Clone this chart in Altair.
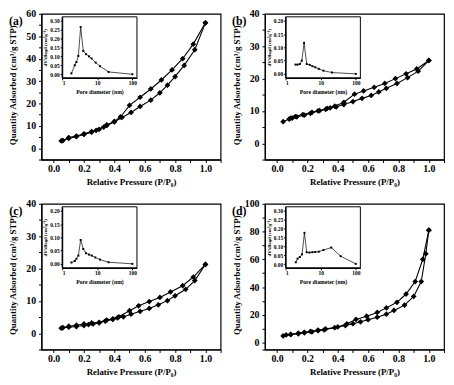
import altair as alt
import pandas as pd

FONT = "Liberation Serif"
W, H = 182, 148

# ---------------- Panel (a) ----------------
a_ads_p = [0.05, 0.06, 0.10, 0.15, 0.20, 0.25, 0.28, 0.33, 0.35, 0.40, 0.45, 0.51, 0.57, 0.64, 0.70, 0.75, 0.80, 0.86, 0.93, 1.00]
a_ads_q = [3.3, 3.5, 4.5, 5.2, 6.2, 7.2, 8.0, 9.5, 10.2, 11.8, 13.8, 16.0, 18.7, 21.5, 24.8, 28.2, 32.0, 37.0, 44.0, 56.0]
a_des_p = [1.00, 0.92, 0.85, 0.78, 0.71, 0.64, 0.57, 0.50, 0.44, 0.40, 0.35, 0.30, 0.25, 0.20, 0.15, 0.10, 0.06]
a_des_q = [56.0, 46.5, 40.0, 35.0, 30.5, 26.5, 22.8, 19.2, 14.0, 12.0, 10.5, 8.5, 7.5, 6.5, 5.5, 4.8, 3.5]
a_pd_d = [1.84, 2.28, 2.55, 2.9, 3.37, 4.0, 4.8, 5.8, 6.9, 9.0, 12.0, 21.0, 100.0]
a_pd_v = [0.005, 0.05, 0.068, 0.102, 0.263, 0.13, 0.112, 0.10, 0.088, 0.065, 0.045, 0.013, 0.0]

# ---------------- Panel (b) ----------------
b_ads_p = [0.04, 0.08, 0.10, 0.13, 0.18, 0.22, 0.27, 0.32, 0.35, 0.39, 0.44, 0.50, 0.56, 0.62, 0.67, 0.72, 0.79, 0.86, 0.93, 1.00]
b_ads_q = [6.7, 7.5, 7.8, 8.2, 8.7, 9.3, 10.0, 10.5, 11.0, 11.3, 12.0, 12.9, 13.9, 14.8, 15.9, 17.0, 18.5, 20.3, 22.3, 25.6]
b_des_p = [1.00, 0.92, 0.85, 0.78, 0.71, 0.64, 0.57, 0.51, 0.44, 0.38, 0.33, 0.28, 0.23, 0.17, 0.12, 0.09]
b_des_q = [25.6, 23.0, 21.5, 20.0, 18.5, 17.3, 16.2, 15.2, 12.7, 11.5, 10.8, 10.1, 9.6, 8.9, 8.3, 7.8]
b_pd_d = [1.92, 2.2, 2.55, 2.9, 3.37, 4.0, 4.9, 5.8, 7.0, 8.8, 12.0, 21.0, 100.0]
b_pd_v = [0.035, 0.035, 0.037, 0.05, 0.117, 0.037, 0.034, 0.029, 0.025, 0.019, 0.012, 0.005, 0.0]

# ---------------- Panel (c) ----------------
c_ads_p = [0.05, 0.06, 0.10, 0.15, 0.20, 0.23, 0.26, 0.30, 0.34, 0.39, 0.42, 0.46, 0.51, 0.57, 0.63, 0.69, 0.75, 0.80, 0.87, 0.93, 1.00]
c_ads_q = [1.6, 1.7, 1.9, 2.1, 2.4, 2.7, 2.9, 3.2, 3.8, 4.3, 4.8, 5.1, 5.9, 6.8, 7.7, 8.8, 10.1, 11.6, 13.6, 16.3, 21.3]
c_des_p = [1.00, 0.92, 0.85, 0.77, 0.70, 0.63, 0.56, 0.50, 0.43, 0.39, 0.35, 0.30, 0.25, 0.20, 0.15, 0.10, 0.06]
c_des_q = [21.3, 17.4, 14.7, 12.8, 11.1, 9.8, 8.5, 7.0, 5.1, 4.5, 4.1, 3.4, 3.2, 2.9, 2.5, 2.2, 1.8]
c_pd_d = [1.84, 2.3, 2.55, 2.9, 3.37, 4.0, 4.8, 5.8, 7.0, 8.8, 12.0, 21.0, 100.0]
c_pd_v = [0.005, 0.011, 0.019, 0.031, 0.09, 0.056, 0.04, 0.035, 0.031, 0.024, 0.016, 0.006, 0.0]

# ---------------- Panel (d) ----------------
d_ads_p = [0.04, 0.09, 0.14, 0.18, 0.23, 0.27, 0.31, 0.38, 0.45, 0.50, 0.55, 0.60, 0.66, 0.72, 0.77, 0.84, 0.90, 0.95, 0.98, 1.00]
d_ads_q = [4.8, 5.7, 6.3, 7.0, 7.8, 8.6, 9.2, 10.7, 12.3, 13.6, 15.0, 16.5, 18.3, 20.5, 23.2, 27.0, 33.3, 44.0, 64.0, 81.0]
d_des_p = [1.00, 0.96, 0.91, 0.85, 0.79, 0.72, 0.66, 0.59, 0.52, 0.46, 0.40, 0.32, 0.27, 0.22, 0.18, 0.14, 0.09, 0.06]
d_des_q = [81.0, 60.0, 44.0, 35.0, 29.0, 25.0, 21.7, 19.0, 16.7, 13.5, 11.3, 9.8, 9.0, 8.0, 7.4, 6.8, 6.0, 5.5]
d_pd_d = [1.96, 2.2, 2.55, 2.95, 3.45, 4.0, 4.8, 5.8, 7.0, 8.8, 12.0, 20.0, 37.0, 100.0]
d_pd_v = [0.011, 0.031, 0.04, 0.055, 0.175, 0.067, 0.065, 0.067, 0.068, 0.07, 0.079, 0.093, 0.045, 0.002]

LABELS = ["(a)", "(b)", "(c)", "(d)"]
Y_MAX = [60, 40, 40, 100]
Y_STEP = [10, 10, 10, 20]
INSET_MAX = [0.30, 0.20, 0.20, 0.30]

# inset placement inside the plot area (pixels)
IX0, IX1 = 21, 97
IY0, IY1 = 65, 3


def panel(label, ads_p, ads_q, des_p, des_q, pd_d, pd_v, ymax, ystep, imax):
    df = pd.DataFrame({
        "p": ads_p + des_p,
        "q": ads_q + des_q,
        "branch": ["Adsorption"] * len(ads_p) + ["Desorption"] * len(des_p),
        "i": list(range(len(ads_p))) + list(range(len(des_p))),
    })
    xticks = [round(0.1 * k, 1) for k in range(12)]
    half = ystep / 2
    yticks = [-5 + 0.0] + [half * k for k in range(int(ymax / half) + 1)]
    x = alt.X("p:Q", scale=alt.Scale(domain=[-0.08, 1.1], nice=False, zero=False),
              axis=alt.Axis(title="Relative Pressure (P/P₀)", values=xticks,
                            labelExpr="round(datum.value*10) % 2 == 0 ? format(datum.value, '.1f') : ''",
                            tickSize=3, labelPadding=1, titlePadding=4, orient="bottom"))
    y = alt.Y("q:Q", scale=alt.Scale(domain=[-5, ymax], nice=False, zero=False),
              axis=alt.Axis(title="Quantity Adsorbed (cm³/g STP)", values=yticks,
                            labelExpr=f"(datum.value >= 0 && datum.value % {ystep} == 0) ? format(datum.value, 'd') : ''",
                            tickSize=3, labelPadding=3, titleX=-24, titleY=H / 2 - 2, orient="left"))
    base = alt.Chart(df)
    lines = base.mark_line(color="black", strokeWidth=1.1).encode(x=x, y=y, detail="branch:N", order="i:Q")
    pts = base.mark_point(shape="diamond", filled=True, color="black", size=34, opacity=1).encode(x=x, y=y, detail="branch:N")
    main = alt.layer(lines, pts)

    idf = pd.DataFrame({"d": pd_d, "v": pd_v})
    ilo = -0.02 if imax > 0.25 else -0.015
    ihi = 0.32 if imax > 0.25 else 0.215
    sx = alt.Scale(type="log", domain=[1, 135], range=[IX0, IX1], nice=False)
    sy = alt.Scale(domain=[ilo, ihi], range=[IY0, IY1], nice=False, zero=False)
    iyvals = [round(0.05 * k, 2) for k in range(int(round(imax / 0.05)) + 1)]
    ax_x = alt.Axis(title="Pore diameter (nm)", values=[1, 10, 100], format="d", orient="bottom",
                    offset=IY0 - H, tickSize=2, labelPadding=1, titlePadding=2,
                    labelFontSize=5.5, titleFontSize=5.8, zindex=1)
    ax_y = alt.Axis(title="dV/dlogd (cm³g⁻¹)", values=iyvals, format=".2f", orient="left",
                    offset=-IX0, tickSize=2, labelPadding=1, titlePadding=2,
                    labelFontSize=5.5, titleFontSize=5, zindex=1)
    box = alt.Chart(pd.DataFrame({"k": [0]})).mark_rect(fill="white", stroke="black", strokeWidth=1).encode(
        x=alt.XDatum(1, type="quantitative", scale=sx, axis=ax_x),
        x2=alt.X2Datum(135),
        y=alt.YDatum(ilo, type="quantitative", scale=sy, axis=ax_y),
        y2=alt.Y2Datum(ihi),
    )
    ix = alt.X("d:Q", scale=sx, axis=ax_x)
    iy = alt.Y("v:Q", scale=sy, axis=ax_y)
    ib = alt.Chart(idf)
    iline = ib.mark_line(color="black", strokeWidth=0.7).encode(x=ix, y=iy)
    ipts = ib.mark_point(shape="square", filled=True, color="black", size=4, opacity=1).encode(x=ix, y=iy)
    inset = alt.layer(box, iline, ipts)

    lab = alt.Chart(pd.DataFrame({"t": [label]})).mark_text(
        font=FONT, fontSize=12, fontWeight="bold", align="center", baseline="middle"
    ).encode(x=alt.value(-26), y=alt.value(7), text="t:N")

    return alt.layer(main, inset, lab).resolve_scale(x="independent", y="independent").properties(width=W, height=H)


pa = panel(LABELS[0], a_ads_p, a_ads_q, a_des_p, a_des_q, a_pd_d, a_pd_v, Y_MAX[0], Y_STEP[0], INSET_MAX[0])
pb = panel(LABELS[1], b_ads_p, b_ads_q, b_des_p, b_des_q, b_pd_d, b_pd_v, Y_MAX[1], Y_STEP[1], INSET_MAX[1])
pc = panel(LABELS[2], c_ads_p, c_ads_q, c_des_p, c_des_q, c_pd_d, c_pd_v, Y_MAX[2], Y_STEP[2], INSET_MAX[2])
pdn = panel(LABELS[3], d_ads_p, d_ads_q, d_des_p, d_des_q, d_pd_d, d_pd_v, Y_MAX[3], Y_STEP[3], INSET_MAX[3])

chart = alt.concat(pa, pb, pc, pdn, columns=2, spacing={"row": 45, "column": 45}, bounds="flush").properties(
    padding={"top": -3, "left": 0, "right": 0, "bottom": 0}
).configure_view(
    stroke="black", strokeWidth=1.2
).configure_axis(
    grid=False, domainColor="black", domainWidth=1.2, tickColor="black", tickWidth=1,
    labelFont=FONT, titleFont=FONT, labelFontWeight="bold", titleFontWeight="bold",
    labelFontSize=10, titleFontSize=9, labelColor="black", titleColor="black",
)

chart.save("out.html", embed_options={"renderer": "svg", "actions": False})
